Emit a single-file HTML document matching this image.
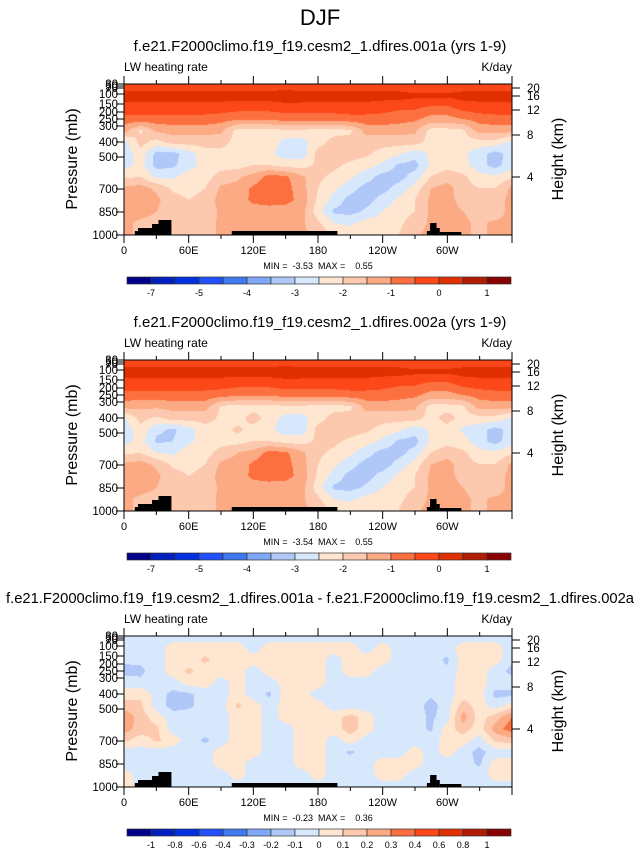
<!DOCTYPE html>
<html><head><meta charset="utf-8">
<style>
html,body{margin:0;padding:0;background:#fff;width:639px;height:851px;overflow:hidden;font-family:"Liberation Sans",sans-serif}
#wrap{position:relative;width:639px;height:851px}
canvas{position:absolute}
svg{position:absolute;left:0;top:0}
</style></head>
<body>
<div id="wrap">
<canvas id="f0" width="388" height="151" style="left:124px;top:84px"></canvas>
<canvas id="f1" width="388" height="151" style="left:124px;top:360px"></canvas>
<canvas id="f2" width="388" height="151" style="left:124px;top:636px"></canvas>
<svg id="ov" width="639" height="851"></svg>
</div>
<script>
// ---- data ----
const lons = [0,15,30,45,60,75,90,105,120,135,150,165,180,195,210,225,240,255,270,285,300,315,330,345,360];
const fieldEdges = [-7,-6,-5,-4.5,-4,-3.5,-3,-2.5,-2,-1.5,-1,-0.5,0,0.5,1];
const fieldTickLabels = ["-7","","-5","","-4","","-3","","-2","","-1","","0","","1"];
const diffEdges = [-1,-0.8,-0.6,-0.4,-0.3,-0.2,-0.1,0,0.1,0.2,0.3,0.4,0.6,0.8,1];
const diffTickLabels = ["-1","-0.8","-0.6","-0.4","-0.3","-0.2","-0.1","0","0.1","0.2","0.3","0.4","0.6","0.8","1"];
const palette = ["#00008a","#0020c0","#0030e0","#2050f8","#4078f0","#80a8f8","#b0c8f8","#d8e8fc","#fee6d0","#fcc8ae","#fcaa84","#fc7040","#fc4818","#e03000","#b01c04","#8a0000"];
const run1 = [
[-0.3,-0.3,-0.3,-0.3,-0.3,-0.3,-0.3,-0.3,-0.3,-0.3,-0.3,-0.3,-0.3,-0.3,-0.3,-0.3,-0.3,-0.3,-0.3,-0.3,-0.3,-0.3,-0.3,-0.3,-0.3],
[0.2,0.2,0.2,0.2,0.2,0.2,0.2,0.2,0.25,0.25,0.3,0.25,0.25,0.2,0.2,0.2,0.2,0.2,0.1,0.1,0.1,0.2,0.2,0.2,0.2],
[-0.2,-0.2,-0.2,-0.2,-0.2,-0.2,-0.2,-0.3,-0.3,-0.3,-0.2,-0.2,-0.2,-0.2,-0.2,-0.2,-0.3,-0.4,-0.4,-0.6,-0.6,-0.3,-0.2,-0.2,-0.2],
[-0.7,-0.7,-0.7,-0.7,-0.7,-0.7,-0.8,-0.9,-0.9,-0.9,-0.8,-0.8,-0.8,-0.8,-0.7,-0.7,-0.7,-0.8,-0.9,-1.2,-1.2,-1.0,-0.8,-0.7,-0.7],
[-1.3,-2.1,-1.4,-1.3,-1.3,-1.3,-1.4,-2.2,-2.2,-2.2,-2.1,-2.1,-2.2,-2.2,-2.1,-1.3,-1.3,-1.3,-1.4,-2.2,-2.2,-2.1,-1.3,-1.3,-1.3],
[-2.7,-1.8,-2.2,-1.8,-1.8,-1.8,-1.8,-2.2,-2.2,-2.2,-2.7,-2.7,-2.2,-1.8,-1.8,-1.8,-1.8,-1.8,-1.8,-2.2,-2.2,-2.2,-2.2,-2.2,-2.7],
[-2.8,-2.2,-3.2,-3.2,-2.7,-2.2,-2.2,-2.2,-2.2,-2.4,-2.8,-2.8,-1.8,-1.8,-1.8,-1.9,-2.2,-2.4,-2.8,-2.4,-2.2,-2.4,-2.8,-3.2,-2.8],
[-2.7,-2.3,-3.2,-3.1,-2.7,-2.3,-2.2,-2.2,-2.0,-2.0,-2.2,-2.2,-1.9,-1.9,-2.1,-2.3,-2.6,-3.1,-3.2,-2.4,-2.2,-2.3,-2.8,-3.2,-2.7],
[-2.1,-2.0,-2.6,-2.6,-2.2,-2.2,-1.8,-1.6,-1.3,-0.8,-0.9,-1.4,-1.9,-2.1,-2.4,-2.8,-3.2,-3.2,-2.8,-2.0,-1.7,-1.9,-2.3,-2.4,-2.1],
[-1.4,-1.3,-1.6,-2.1,-2.2,-2.0,-1.4,-1.3,-0.9,-0.7,-0.8,-1.3,-2.0,-2.4,-2.8,-3.2,-3.2,-2.8,-2.3,-1.5,-1.3,-1.8,-2.0,-2.0,-1.4],
[-1.3,-1.2,-1.4,-1.8,-2.0,-1.8,-1.3,-1.2,-0.9,-0.8,-0.8,-1.2,-2.1,-2.7,-3.2,-3.2,-2.8,-2.4,-2.0,-1.4,-1.4,-1.6,-1.8,-1.8,-1.3],
[-1.3,-1.3,-1.5,-1.8,-1.9,-1.8,-1.4,-1.3,-1.2,-1.2,-1.3,-1.3,-2.3,-3.1,-3.2,-2.9,-2.5,-2.2,-2.0,-1.4,-1.4,-1.5,-1.7,-1.8,-1.3],
[-1.4,-1.6,-1.7,-1.8,-1.8,-1.7,-1.4,-1.3,-1.3,-1.3,-1.3,-1.4,-1.9,-2.5,-2.6,-2.3,-2.2,-2.1,-1.8,-1.4,-1.4,-1.4,-1.6,-1.4,-1.4],
[-1.4,-1.6,-1.7,-1.8,-1.8,-1.7,-1.4,-1.3,-1.3,-1.3,-1.3,-1.4,-1.6,-2.2,-2.2,-2.2,-2.2,-2.0,-1.6,-1.3,-1.4,-1.4,-1.6,-1.4,-1.4]];
const run2 = [
[-0.3,-0.3,-0.3,-0.3,-0.3,-0.3,-0.3,-0.3,-0.3,-0.3,-0.3,-0.3,-0.3,-0.3,-0.3,-0.3,-0.3,-0.3,-0.3,-0.3,-0.3,-0.3,-0.3,-0.3,-0.3],
[0.2,0.2,0.2,0.2,0.2,0.2,0.2,0.2,0.25,0.25,0.3,0.25,0.25,0.2,0.2,0.2,0.2,0.2,0.1,0.1,0.1,0.2,0.2,0.2,0.2],
[-0.2,-0.2,-0.2,-0.2,-0.2,-0.2,-0.2,-0.3,-0.3,-0.3,-0.2,-0.2,-0.2,-0.2,-0.2,-0.2,-0.3,-0.4,-0.4,-0.6,-0.6,-0.3,-0.2,-0.2,-0.2],
[-0.7,-0.7,-0.7,-0.7,-0.7,-0.7,-0.8,-0.9,-0.9,-0.9,-0.8,-0.8,-0.8,-0.8,-0.7,-0.7,-0.7,-0.8,-0.9,-1.2,-1.2,-1.0,-0.8,-0.7,-0.7],
[-1.3,-1.4,-1.4,-1.3,-1.3,-1.3,-2.1,-2.2,-2.2,-2.2,-2.1,-2.1,-2.2,-2.2,-2.1,-1.3,-1.3,-1.3,-1.4,-2.2,-2.2,-2.1,-1.3,-1.3,-1.3],
[-2.6,-1.8,-2.1,-1.8,-1.8,-1.8,-2.1,-2.2,-1.8,-2.2,-2.7,-2.7,-2.2,-1.8,-1.8,-1.8,-1.8,-1.8,-1.8,-2.2,-1.8,-2.2,-2.2,-2.2,-2.6],
[-2.8,-2.2,-2.9,-3.1,-2.7,-2.2,-2.2,-1.9,-2.2,-2.4,-2.8,-2.8,-1.8,-1.8,-1.8,-1.9,-2.2,-2.4,-2.8,-2.4,-2.2,-2.6,-2.8,-3.2,-2.8],
[-2.7,-2.3,-3.1,-3.0,-2.6,-2.3,-2.2,-2.2,-2.0,-2.0,-2.2,-2.2,-1.9,-1.9,-2.1,-2.3,-2.6,-3.1,-3.2,-2.4,-2.2,-2.3,-2.8,-3.2,-2.7],
[-2.1,-2.0,-2.5,-2.6,-2.2,-2.2,-1.8,-1.5,-1.3,-0.8,-0.9,-1.4,-1.9,-2.1,-2.4,-2.8,-3.2,-3.2,-2.8,-2.0,-1.7,-1.9,-2.3,-2.4,-2.1],
[-1.4,-1.3,-1.6,-2.1,-2.2,-2.0,-1.4,-1.3,-0.9,-0.7,-0.8,-1.3,-2.0,-2.4,-2.8,-3.2,-3.3,-2.8,-2.3,-1.5,-1.3,-1.8,-2.0,-2.0,-1.4],
[-1.3,-1.2,-1.4,-1.8,-2.0,-1.8,-1.3,-1.2,-0.9,-0.8,-0.8,-1.2,-2.1,-2.7,-3.2,-3.2,-2.8,-2.4,-2.0,-1.4,-1.4,-1.6,-1.8,-1.8,-1.3],
[-1.3,-1.3,-1.5,-1.8,-1.9,-1.8,-1.4,-1.3,-1.2,-1.2,-1.3,-1.3,-2.3,-3.1,-3.2,-2.9,-2.5,-2.2,-2.0,-1.4,-1.4,-1.5,-1.7,-1.8,-1.3],
[-1.4,-1.6,-1.7,-1.8,-1.8,-1.7,-1.4,-1.3,-1.3,-1.3,-1.3,-1.4,-1.9,-2.5,-2.6,-2.3,-2.2,-2.1,-1.8,-1.4,-1.4,-1.4,-1.6,-1.4,-1.4],
[-1.4,-1.6,-1.7,-1.8,-1.8,-1.7,-1.4,-1.3,-1.3,-1.3,-1.3,-1.4,-1.6,-2.2,-2.2,-2.2,-2.2,-2.0,-1.6,-1.3,-1.4,-1.4,-1.6,-1.4,-1.4]];
const diff = [
[-0.05,-0.05,-0.05,-0.05,-0.05,-0.05,-0.05,-0.05,-0.05,-0.05,-0.05,-0.05,-0.05,-0.05,-0.05,-0.05,-0.05,-0.05,-0.05,-0.05,-0.05,-0.05,-0.05,-0.05,-0.05],
[-0.05,-0.05,-0.05,0.05,0.05,0.05,0.05,0.05,-0.05,0.05,0.05,0.05,0.05,0.05,0.05,-0.05,0.05,-0.05,-0.05,-0.05,-0.05,0.05,0.05,0.05,-0.05],
[-0.08,-0.08,-0.05,0.05,0.05,0.12,0.05,0.05,0.05,0.05,0.05,0.05,0.05,-0.05,0.05,0.05,0.05,-0.05,-0.05,-0.05,-0.12,0.05,0.05,0.05,-0.08],
[-0.13,-0.12,-0.05,0.05,0.12,0.05,0.05,0.05,-0.05,0.05,0.05,0.05,0.05,-0.05,0.05,0.05,-0.05,-0.05,-0.05,-0.05,-0.08,0.05,0.05,-0.05,-0.13],
[-0.05,-0.08,-0.05,-0.05,0.05,0.05,-0.05,0.05,-0.05,-0.05,0.05,0.05,0.05,-0.05,-0.05,-0.05,-0.05,-0.05,-0.05,-0.05,-0.05,0.05,0.05,-0.05,-0.05],
[0.05,0.08,-0.05,-0.13,-0.12,-0.05,-0.05,0.05,-0.05,-0.12,0.05,0.05,-0.05,-0.05,-0.05,-0.05,-0.05,-0.05,-0.05,-0.08,-0.05,0.05,0.05,-0.13,-0.13],
[0.15,0.12,-0.05,-0.14,-0.12,-0.05,-0.05,0.12,0.05,-0.05,0.05,0.05,0.05,-0.05,-0.05,-0.05,-0.05,-0.05,-0.05,-0.14,-0.05,0.15,0.05,-0.05,0.05],
[0.28,0.15,0.05,-0.05,-0.05,-0.05,-0.05,0.05,0.05,-0.05,0.05,0.05,0.05,0.05,0.15,0.05,-0.05,-0.05,-0.05,-0.12,-0.05,0.25,0.05,0.15,0.3],
[0.25,0.15,0.12,-0.05,-0.05,-0.05,-0.05,0.05,0.05,-0.05,-0.05,0.05,0.05,0.05,0.15,0.05,-0.05,-0.05,-0.05,-0.12,0.05,0.15,0.05,0.25,0.36],
[0.12,0.05,0.12,0.05,-0.05,-0.12,-0.05,0.05,0.05,-0.05,-0.05,0.05,0.05,-0.05,0.05,-0.05,-0.05,-0.05,-0.05,-0.05,0.05,0.05,-0.05,0.12,0.15],
[-0.05,-0.05,-0.05,-0.05,-0.05,-0.05,0.05,0.05,0.05,-0.05,-0.05,0.05,0.05,-0.05,-0.12,-0.05,-0.05,-0.05,0.05,-0.05,0.05,-0.05,-0.14,-0.05,-0.05],
[-0.05,-0.05,-0.05,-0.05,-0.05,-0.05,0.05,0.05,-0.05,-0.05,-0.05,0.05,0.05,-0.05,-0.05,-0.05,0.05,0.05,0.05,-0.05,-0.05,-0.05,-0.12,0.05,0.05],
[0.05,-0.05,-0.05,-0.05,-0.05,-0.05,-0.05,0.05,-0.05,-0.05,-0.05,-0.05,0.05,-0.05,-0.05,-0.05,0.05,0.05,-0.05,-0.05,-0.05,-0.05,-0.05,0.05,0.05],
[0.05,-0.05,-0.05,-0.05,-0.05,-0.05,-0.05,-0.05,-0.05,-0.05,-0.05,-0.05,-0.05,-0.05,-0.05,-0.05,-0.05,-0.05,-0.05,-0.05,-0.05,-0.05,-0.05,-0.05,-0.05]];
const minMax = [["-3.53","0.55"],["-3.54","0.55"],["-0.23","0.36"]];
const titles = ["f.e21.F2000climo.f19_f19.cesm2_1.dfires.001a (yrs 1-9)","f.e21.F2000climo.f19_f19.cesm2_1.dfires.002a (yrs 1-9)","f.e21.F2000climo.f19_f19.cesm2_1.dfires.001a - f.e21.F2000climo.f19_f19.cesm2_1.dfires.002a"];
const pLabels = ["1000","850","700","500","400","300","250","200","150","100","70","50","30"];
const hLabels = ["20","16","12","8","4"];
const xLabels = ["0","60E","120E","180","120W","60W"];
const topo = [[10,13,4],[13,26,7],[26,32,11],[32,44,15],[100,198,4],[281,285,4],[284,290,12],[290,293,7],[293,313,3]];

// ---- geometry ----
const X0=124, W=388, H=151, offs=[84,360,636];
const pY=[151,128,105,73,58,42,35,28,20,10,4,2,0];
const hY=[4,12,26,51,93];
function xOf(lon){return X0+lon/360*W;}
function classOf(v,edges){let k=0;for(const e of edges){if(v>=e)k++;}return k;}
function hex(c){return [parseInt(c.substr(1,2),16),parseInt(c.substr(3,2),16),parseInt(c.substr(5,2),16)];}
const pal=palette.map(hex);
function drawField(id,grid,edges){
  const cv=document.getElementById(id),ctx=cv.getContext('2d');
  const img=ctx.createImageData(W,H);const nr=grid.length,nc=lons.length;
  for(let y=0;y<H;y++){const v=y/(H-1)*(nr-1);const r0=Math.min(nr-2,Math.floor(v)),fr=v-r0;
    for(let x=0;x<W;x++){const lon=x/(W-1)*360;const u=lon/15;const c0=Math.min(nc-2,Math.floor(u)),fc=u-c0;
      const val=(grid[r0][c0]*(1-fc)+grid[r0][c0+1]*fc)*(1-fr)+(grid[r0+1][c0]*(1-fc)+grid[r0+1][c0+1]*fc)*fr;
      const col=pal[classOf(val,edges)];const i=(y*W+x)*4;img.data[i]=col[0];img.data[i+1]=col[1];img.data[i+2]=col[2];img.data[i+3]=255;}}
  ctx.putImageData(img,0,0);
}
drawField('f0',run1,fieldEdges);
drawField('f1',run2,fieldEdges);
drawField('f2',diff,diffEdges);

const NS="http://www.w3.org/2000/svg",svg=document.getElementById('ov');
function mk(tag,attrs,parent){const e=document.createElementNS(NS,tag);for(const k in attrs)e.setAttribute(k,attrs[k]);(parent||svg).appendChild(e);return e;}
function txt(s,x,y,size,anchor,parent,extra){const t=mk('text',Object.assign({x:x,y:y,'font-size':size,'text-anchor':anchor||'start','font-family':'Liberation Sans, sans-serif',fill:'#000'},extra||{}),parent);t.textContent=s;return t;}

const sup=txt("DJF",320,25,22,'middle');



for(let p=0;p<3;p++){
  const T=offs[p],B=T+H;
  const g=mk('g',{});
  
  
  const tt=txt(titles[p],320,T-33,15,'middle',g,p==2?{textLength:628,lengthAdjust:'spacingAndGlyphs'}:{});
  
  
  const lt=txt("LW heating rate",X0,T-13,12,'start',g);
  
  
  const ut=txt("K/day",X0+W,T-13,12,'end',g);
  
  
  for(const t of topo){const r=mk('rect',{x:xOf(t[0]),y:B-t[2],width:xOf(t[1])-xOf(t[0]),height:t[2],fill:'#000'},g);
    
    }
  const fr=mk('rect',{x:X0,y:T,width:W,height:H,fill:'none',stroke:'#000','stroke-width':1},g);
  
  
  for(let lon=0;lon<=360;lon+=30){const x=xOf(lon),len=lon%60==0?8:4;
    mk('line',{x1:x,y1:T,x2:x,y2:T-len,stroke:'#000'},g);mk('line',{x1:x,y1:B,x2:x,y2:B+len,stroke:'#000'},g);}
  xLabels.forEach((s,i)=>{const t=txt(s,xOf(i*60),B+19,11,'middle',g);
    
    });
  pLabels.forEach((s,i)=>{const y=T+pY[i];mk('line',{x1:X0-8,y1:y,x2:X0,y2:y,stroke:'#000'},g);
    const t=txt(s,X0-6,y+4,11.5,'end',g);
    
    });
  hLabels.forEach((s,i)=>{const y=T+hY[i];mk('line',{x1:X0+W,y1:y,x2:X0+W+8,y2:y,stroke:'#000'},g);
    const t=txt(s,X0+W+15,y+4,11.5,'start',g);
    
    });
  const yt=txt("Pressure (mb)",0,0,16,'middle',g,{transform:`translate(77,${T+75}) rotate(-90)`});
  
  
  const ht=txt("Height (km)",0,0,16,'middle',g,{transform:`translate(563,${T+75}) rotate(-90)`});
  
  
  const mm=txt(`MIN =  ${minMax[p][0]}  MAX =    ${minMax[p][1]}`,318,B+34,9,'middle',g,{style:'white-space:pre'});
  
  
  const cy=T+193,cx=127,bw=24;
  const labs=p==2?diffTickLabels:fieldTickLabels;
  for(let k=0;k<16;k++){const r=mk('rect',{x:cx+k*bw,y:cy,width:bw,height:7,fill:palette[k],stroke:'#333','stroke-width':0.7},g);
    
    }
  labs.forEach((s,i)=>{if(!s)return;const t=txt(s,cx+(i+1)*bw,cy+19,9,'middle',g);
    
    });
}
</script>
</body></html>
